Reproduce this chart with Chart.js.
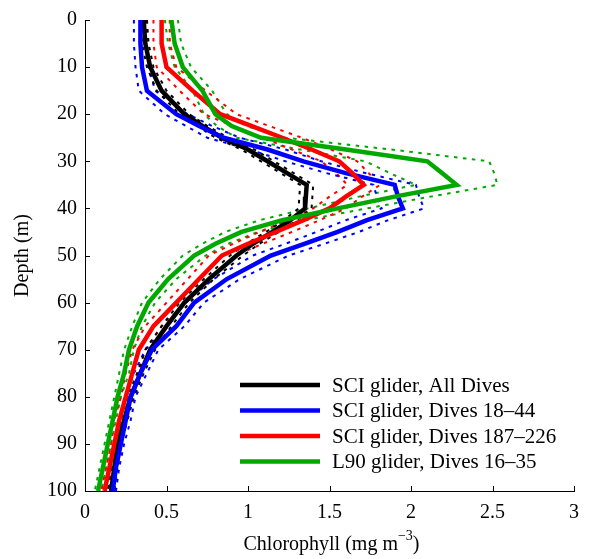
<!DOCTYPE html>
<html><head><meta charset="utf-8">
<script src="https://cdn.jsdelivr.net/npm/chart.js@4"></script>
<style>html,body{margin:0;padding:0;background:#fff}#wrap{width:589px;height:559px}</style>
</head><body><div id="wrap"><canvas id="c" width="589" height="559"></canvas></div>
<script>
// ---- data ----
const depth = [0,5,10,15,20,22.5,25,27.5,30,32.5,35,37.5,40,42.5,45,47.5,50,55,60,65,70,75,80,85,90,95,100];
const seriesLabels = ['SCI glider, All Dives','SCI glider, Dives 18\u201344','SCI glider, Dives 187\u2013226','L90 glider, Dives 16\u201335'];
const chlAll    = [0.36,0.37,0.40,0.47,0.61,0.72,0.84,1.00,1.12,1.24,1.36,1.355,1.35,1.26,1.15,1.03,0.93,0.76,0.61,0.50,0.40,0.34,0.28,0.24,0.20,0.18,0.16];
const chl1844   = [0.34,0.34,0.35,0.38,0.56,0.70,0.85,1.12,1.34,1.60,1.90,1.92,1.95,1.73,1.55,1.35,1.14,0.87,0.67,0.56,0.41,0.34,0.28,0.25,0.22,0.19,0.17];
const chl187226 = [0.47,0.47,0.50,0.66,0.83,1.02,1.21,1.39,1.56,1.64,1.71,1.60,1.50,1.34,1.17,1.00,0.84,0.70,0.56,0.42,0.33,0.29,0.25,0.21,0.18,0.15,0.12];
const chlL90    = [0.53,0.55,0.60,0.72,0.80,0.90,1.08,1.60,2.10,2.19,2.28,1.90,1.55,1.21,0.96,0.80,0.67,0.51,0.39,0.32,0.27,0.24,0.20,0.17,0.14,0.11,0.08];
const sdAll     = [0.02,0.02,0.02,0.03,0.03,0.03,0.04,0.04,0.04,0.04,0.04,0.04,0.04,0.04,0.04,0.04,0.04,0.03,0.03,0.03,0.03,0.02,0.02,0.02,0.02,0.02,0.02];
const sd1844    = [0.04,0.04,0.04,0.05,0.07,0.08,0.10,0.11,0.11,0.12,0.13,0.13,0.13,0.13,0.13,0.12,0.11,0.08,0.06,0.05,0.04,0.04,0.03,0.03,0.02,0.02,0.02];
const sd187226  = [0.05,0.05,0.06,0.08,0.10,0.11,0.12,0.12,0.11,0.10,0.10,0.10,0.10,0.10,0.10,0.09,0.08,0.07,0.06,0.05,0.04,0.04,0.03,0.03,0.02,0.02,0.02];
const sdL90     = [0.04,0.04,0.05,0.06,0.07,0.09,0.15,0.28,0.38,0.32,0.25,0.22,0.18,0.14,0.10,0.08,0.07,0.05,0.04,0.03,0.03,0.03,0.02,0.02,0.02,0.02,0.02];
const xTickLabels = ['0','0.5','1','1.5','2','2.5','3'];
const yTickLabels = ['0','10','20','30','40','50','60','70','80','90','100'];
const xTitle = 'Chlorophyll (mg m';
const xTitleSup = '\u22123';
const yTitle = 'Depth (m)';

// ---- styling ----
const colors = ['#000000','#0000ff','#ff0000','#00a800'];
const FONT = '"Liberation Serif", "Times New Roman", serif';
const means = [chlAll, chl1844, chl187226, chlL90];
const sds = [sdAll, sd1844, sd187226, sdL90];

const datasets = [];
means.forEach((m, s) => {
  datasets.push({label: seriesLabels[s], data: depth.map((d,i)=>({x:m[i], y:d})),
    borderColor: colors[s], borderWidth: 4.5, pointRadius: 0, showLine: true, fill: false, tension: 0, order: 4 - s});
  [-1, 1].forEach(sign => {
    datasets.push({label: '_bound', data: depth.map((d,i)=>({x:m[i] + sign*sds[s][i], y:d})),
      borderColor: colors[s], borderWidth: 2, borderDash: [3.5, 5.5], pointRadius: 0, showLine: true,
      fill: false, tension: 0, order: 10});
  });
});

const decor = {
  id: 'decor',
  afterDraw(chart) {
    const ctx = chart.ctx, xs = chart.scales.x, ys = chart.scales.y, a = chart.chartArea;
    ctx.save();
    ctx.strokeStyle = '#000'; ctx.lineWidth = 1;
    // inward tick marks
    xs.ticks.forEach(t => { const p = Math.round(xs.getPixelForValue(t.value)) + 0.5;
      ctx.beginPath(); ctx.moveTo(p, a.bottom); ctx.lineTo(p, a.bottom - 5); ctx.stroke(); });
    ys.ticks.forEach(t => { const p = Math.round(ys.getPixelForValue(t.value)) + 0.5;
      ctx.beginPath(); ctx.moveTo(a.left, p); ctx.lineTo(a.left + 5, p); ctx.stroke(); });
    // x title with superscript
    ctx.fillStyle = '#000';
    ctx.font = '20px ' + FONT;
    ctx.textBaseline = 'alphabetic';
    const w1 = ctx.measureText(xTitle).width;
    ctx.font = '14px ' + FONT;
    const w2 = ctx.measureText(xTitleSup).width;
    ctx.font = '20px ' + FONT;
    const w3 = ctx.measureText(')').width;
    let x0 = (a.left + a.right) / 2 - (w1 + w2 + w3) / 2 + 2;
    const yb = 550;
    ctx.textAlign = 'left';
    ctx.fillText(xTitle, x0, yb);
    ctx.font = '14px ' + FONT;
    ctx.fillText(xTitleSup, x0 + w1, yb - 10);
    ctx.font = '20px ' + FONT;
    ctx.fillText(')', x0 + w1 + w2, yb);
    // y title
    ctx.save();
    ctx.translate(23, (a.top + a.bottom) / 2);
    ctx.rotate(-Math.PI / 2);
    ctx.textAlign = 'center'; ctx.textBaseline = 'middle';
    ctx.fillText(yTitle, 0, 0);
    ctx.restore();
    // legend
    const rows = [385, 410.5, 436, 461.5];
    ctx.font = '21px ' + FONT;
    ctx.textAlign = 'left'; ctx.textBaseline = 'middle';
    seriesLabels.forEach((lab, i) => {
      ctx.strokeStyle = colors[i]; ctx.lineWidth = 4.5;
      ctx.beginPath(); ctx.moveTo(240, rows[i]); ctx.lineTo(320, rows[i]); ctx.stroke();
      ctx.fillStyle = '#000';
      ctx.fillText(lab, 332, rows[i] + 1);
    });
    ctx.restore();
  }
};

new Chart(document.getElementById('c'), {
  type: 'scatter',
  data: { datasets },
  options: {
    responsive: false, animation: false, devicePixelRatio: 1,
    layout: { padding: { top: 20, right: 11, left: 0, bottom: 0 } },
    plugins: { legend: { display: false }, tooltip: { enabled: false } },
    scales: {
      x: { type: 'linear', min: 0, max: 3,
        ticks: { stepSize: 0.5, color: '#000', padding: 10, font: { size: 20, family: FONT },
          callback: (v) => xTickLabels[Math.round(v / 0.5)] },
        grid: { display: true, drawOnChartArea: false, drawTicks: false },
        border: { display: true, color: '#000', width: 1 },
        afterFit(s) { s.height = 68; } },
      y: { type: 'linear', min: 0, max: 100, reverse: true,
        ticks: { stepSize: 10, color: '#000', padding: 8, font: { size: 20, family: FONT },
          callback: (v) => yTickLabels[Math.round(v / 10)] },
        grid: { display: true, drawOnChartArea: false, drawTicks: false },
        border: { display: true, color: '#000', width: 1 },
        afterFit(s) { s.width = 85; } }
    }
  },
  plugins: [decor]
});
</script></body></html>
